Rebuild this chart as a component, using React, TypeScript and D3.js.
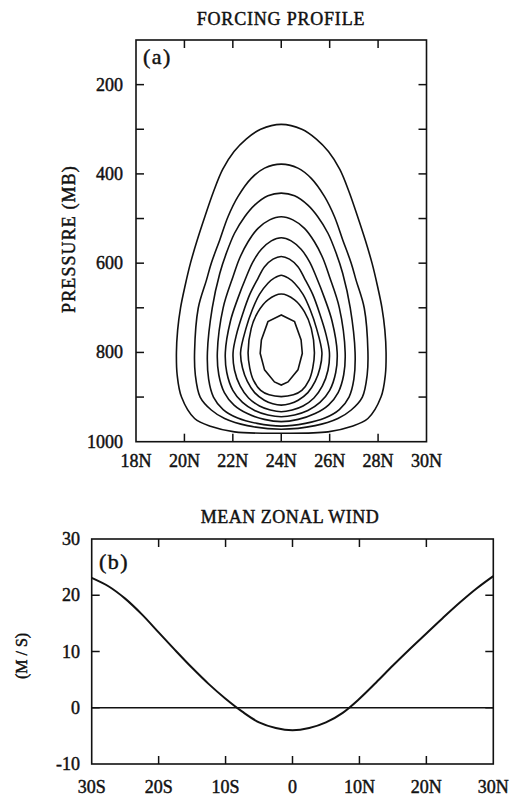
import React from "react";
import * as d3 from "d3";

// ---------- Panel (a): forcing profile ----------
const LAT_A_TICKS = [18, 20, 22, 24, 26, 28, 30];
const LAT_A_LABELS = ["18N", "20N", "22N", "24N", "26N", "28N", "30N"];
const P_TICKS = [200, 300, 400, 500, 600, 700, 800, 900];
const P_LABELS = [200, 400, 600, 800, 1000];
const FORCING_CENTER_LAT = 24;

// Each closed contour: top and bottom pressure on the centre line,
// plus half-widths (degrees of latitude) at pressures down the flank.
const CONTOUR_TOPS = [289, 378, 443, 496, 543, 585, 627, 669, 716];
const CONTOUR_BOTTOMS = [981, 972, 965, 955, 944, 933, 918, 899, 873];
const CONTOUR_FLANKS: [number, number][][] = [
  [[0.85, 300], [1.45, 322], [1.95, 350], [2.42, 390], [2.8, 440], [3.15, 495], [3.48, 550], [3.75, 600], [3.97, 650], [4.16, 700], [4.28, 750], [4.33, 800], [4.3, 850], [4.12, 900], [3.58, 948], [2.89, 966], [1.93, 978]],
  [[0.69, 387], [1.24, 410], [1.79, 451], [2.2, 496], [2.54, 548], [2.89, 600], [3.09, 638], [3.43, 701], [3.58, 798], [3.55, 850], [3.35, 900], [2.89, 929], [2.34, 948], [1.4, 964]],
  [[0.55, 449], [1.1, 470], [1.51, 496], [1.93, 533], [2.27, 578], [2.54, 623], [2.85, 700], [3.05, 800], [3.0, 860], [2.8, 900], [2.4, 928], [1.8, 947], [1.0, 959]],
  [[0.48, 503], [0.96, 522], [1.37, 552], [1.72, 589], [1.99, 630], [2.4, 700], [2.64, 800], [2.58, 850], [2.35, 890], [1.95, 918], [1.4, 937], [0.7, 950]],
  [[0.41, 550], [0.82, 569], [1.17, 597], [1.44, 630], [1.8, 680], [2.1, 730], [2.31, 800], [2.25, 845], [2.0, 885], [1.6, 912], [1.1, 930], [0.55, 940]],
  [[0.34, 591], [0.69, 608], [0.96, 634], [1.3, 670], [1.6, 715], [1.85, 760], [1.99, 800], [1.93, 840], [1.7, 875], [1.35, 902], [0.9, 920], [0.45, 929]],
  [[0.28, 633], [0.55, 645], [0.9, 670], [1.2, 705], [1.45, 745], [1.68, 800], [1.6, 835], [1.4, 865], [1.1, 890], [0.7, 907], [0.35, 915]],
  [[0.55, 682], [0.96, 709], [1.24, 746], [1.37, 800], [1.3, 835], [1.15, 862], [0.85, 885], [0.5, 895]],
  [[0.55, 731], [0.82, 772], [0.87, 802], [0.69, 839], [0.28, 866]],
];

// ---------- Panel (b): mean zonal wind ----------
const LAT_B_TICKS = [-30, -20, -10, 0, 10, 20, 30];
const LAT_B_LABELS = ["30S", "20S", "10S", "0", "10N", "20N", "30N"];
const U_TICKS = [-10, 0, 10, 20, 30];
const WIND_LAT = [-30, -27.5, -25, -22.5, -20, -17.5, -15, -12.5, -10, -7.5, -5, -2.5, 0, 2.5, 5, 7.5, 10, 12.5, 15, 17.5, 20, 22.5, 25, 27.5, 30];
const WIND_U = [23.1, 21.6, 19.4, 16.6, 13.4, 10.2, 7.1, 4.2, 1.6, -0.7, -2.6, -3.6, -4.0, -3.6, -2.6, -0.9, 1.6, 4.5, 7.5, 10.4, 13.2, 16.0, 18.7, 21.2, 23.4];

const FONT = "'Liberation Serif', 'Times New Roman', serif";
const INK = "#111";

export default function App() {
  // panel (a) frame
  const a = { left: 136, right: 426.5, top: 40, bottom: 441.7 };
  const xA = d3.scaleLinear().domain([18, 30]).range([a.left, a.right]);
  const yA = d3.scaleLinear().domain([100, 1000]).range([a.top, a.bottom]);

  // panel (b) frame
  const b = { left: 91.7, right: 493.3, top: 539, bottom: 764 };
  const xB = d3.scaleLinear().domain([-30, 30]).range([b.left, b.right]);
  const yB = d3.scaleLinear().domain([-10, 30]).range([b.bottom, b.top]);

  const contourLine = d3
    .line<[number, number]>()
    .x((d) => xA(d[0]))
    .y((d) => yA(d[1]))
    .curve(d3.curveCatmullRomClosed.alpha(0.5));
  const innerLine = d3
    .line<[number, number]>()
    .x((d) => xA(d[0]))
    .y((d) => yA(d[1]))
    .curve(d3.curveLinearClosed);

  const contourPaths = CONTOUR_FLANKS.map((flank, i) => {
    const c = FORCING_CENTER_LAT;
    const pts: [number, number][] = [
      [c, CONTOUR_TOPS[i]],
      ...flank.map(([w, p]) => [c - w, p] as [number, number]),
      [c, CONTOUR_BOTTOMS[i]],
      ...flank
        .slice()
        .reverse()
        .map(([w, p]) => [c + w, p] as [number, number]),
    ];
    return i === CONTOUR_FLANKS.length - 1 ? innerLine(pts) : contourLine(pts);
  });

  const windLine = d3
    .line<number>()
    .x((_, i) => xB(WIND_LAT[i]))
    .y((d) => yB(d))
    .curve(d3.curveCatmullRom.alpha(0.5));

  const tick = 8;
  const textInk = { fill: INK, stroke: INK, strokeWidth: 0.45 };

  return (
    <svg
      width={514}
      height={796}
      style={{ position: "absolute", left: 0, top: 0, background: "#fff" }}
      fontFamily={FONT}
    >
      <rect width={514} height={796} fill="#fff" />

      {/* ---------- (a) FORCING PROFILE ---------- */}
      <g fill="none" stroke={INK} strokeWidth={1.6}>
        {contourPaths.map((d, i) => (
          <path key={i} d={d ?? ""} />
        ))}
      </g>
      <rect
        x={a.left}
        y={a.top}
        width={a.right - a.left}
        height={a.bottom - a.top}
        fill="none"
        stroke={INK}
        strokeWidth={1.6}
      />
      <g stroke={INK} strokeWidth={1.5}>
        {P_TICKS.map((p) => (
          <g key={p}>
            <line x1={a.left} x2={a.left + tick} y1={yA(p)} y2={yA(p)} />
            <line x1={a.right} x2={a.right - tick} y1={yA(p)} y2={yA(p)} />
          </g>
        ))}
        {LAT_A_TICKS.slice(1, -1).map((t) => (
          <g key={t}>
            <line x1={xA(t)} x2={xA(t)} y1={a.top} y2={a.top + tick} />
            <line x1={xA(t)} x2={xA(t)} y1={a.bottom} y2={a.bottom - tick} />
          </g>
        ))}
      </g>
      <g {...textInk}>
        <text x={281} y={25} textAnchor="middle" fontSize={18} letterSpacing={0.8}>
          FORCING PROFILE
        </text>
        <g fontSize={18} textAnchor="end">
          {P_LABELS.map((p) => (
            <text key={p} x={123} y={yA(p) + 6}>
              {p}
            </text>
          ))}
        </g>
        <g fontSize={18} textAnchor="middle">
          {LAT_A_TICKS.map((t, i) => (
            <text key={t} x={xA(t)} y={467}>
              {LAT_A_LABELS[i]}
            </text>
          ))}
        </g>
        <text
          transform="translate(75,239) rotate(-90)"
          textAnchor="middle"
          fontSize={18}
          letterSpacing={1.1}
        >
          PRESSURE (MB)
        </text>
        <text x={143} y={64} fontSize={22} letterSpacing={1.5}>
          (a)
        </text>
      </g>

      {/* ---------- (b) MEAN ZONAL WIND ---------- */}
      <line
        x1={b.left}
        x2={b.right}
        y1={yB(0)}
        y2={yB(0)}
        stroke={INK}
        strokeWidth={1.3}
      />
      <path d={windLine(WIND_U) ?? ""} fill="none" stroke={INK} strokeWidth={2} />
      <rect
        x={b.left}
        y={b.top}
        width={b.right - b.left}
        height={b.bottom - b.top}
        fill="none"
        stroke={INK}
        strokeWidth={1.6}
      />
      <g stroke={INK} strokeWidth={1.5}>
        {U_TICKS.slice(1, -1).map((u) => (
          <g key={u}>
            <line x1={b.left} x2={b.left + tick} y1={yB(u)} y2={yB(u)} />
            <line x1={b.right} x2={b.right - tick} y1={yB(u)} y2={yB(u)} />
          </g>
        ))}
        {LAT_B_TICKS.slice(1, -1).map((t) => (
          <g key={t}>
            <line x1={xB(t)} x2={xB(t)} y1={b.top} y2={b.top + tick} />
            <line x1={xB(t)} x2={xB(t)} y1={b.bottom} y2={b.bottom - tick} />
          </g>
        ))}
      </g>
      <g {...textInk}>
        <text x={290} y={522.5} textAnchor="middle" fontSize={18} letterSpacing={0.5}>
          MEAN ZONAL WIND
        </text>
        <g fontSize={18} textAnchor="end">
          {U_TICKS.map((u) => (
            <text key={u} x={80} y={yB(u) + 6}>
              {u}
            </text>
          ))}
        </g>
        <g fontSize={18} textAnchor="middle">
          {LAT_B_TICKS.map((t, i) => (
            <text key={t} x={xB(t)} y={793}>
              {LAT_B_LABELS[i]}
            </text>
          ))}
        </g>
        <text
          transform="translate(27,656) rotate(-90)"
          textAnchor="middle"
          fontSize={16}
        >
          (M / S)
        </text>
        <text x={99} y={569} fontSize={22} letterSpacing={1.5}>
          (b)
        </text>
      </g>
    </svg>
  );
}
